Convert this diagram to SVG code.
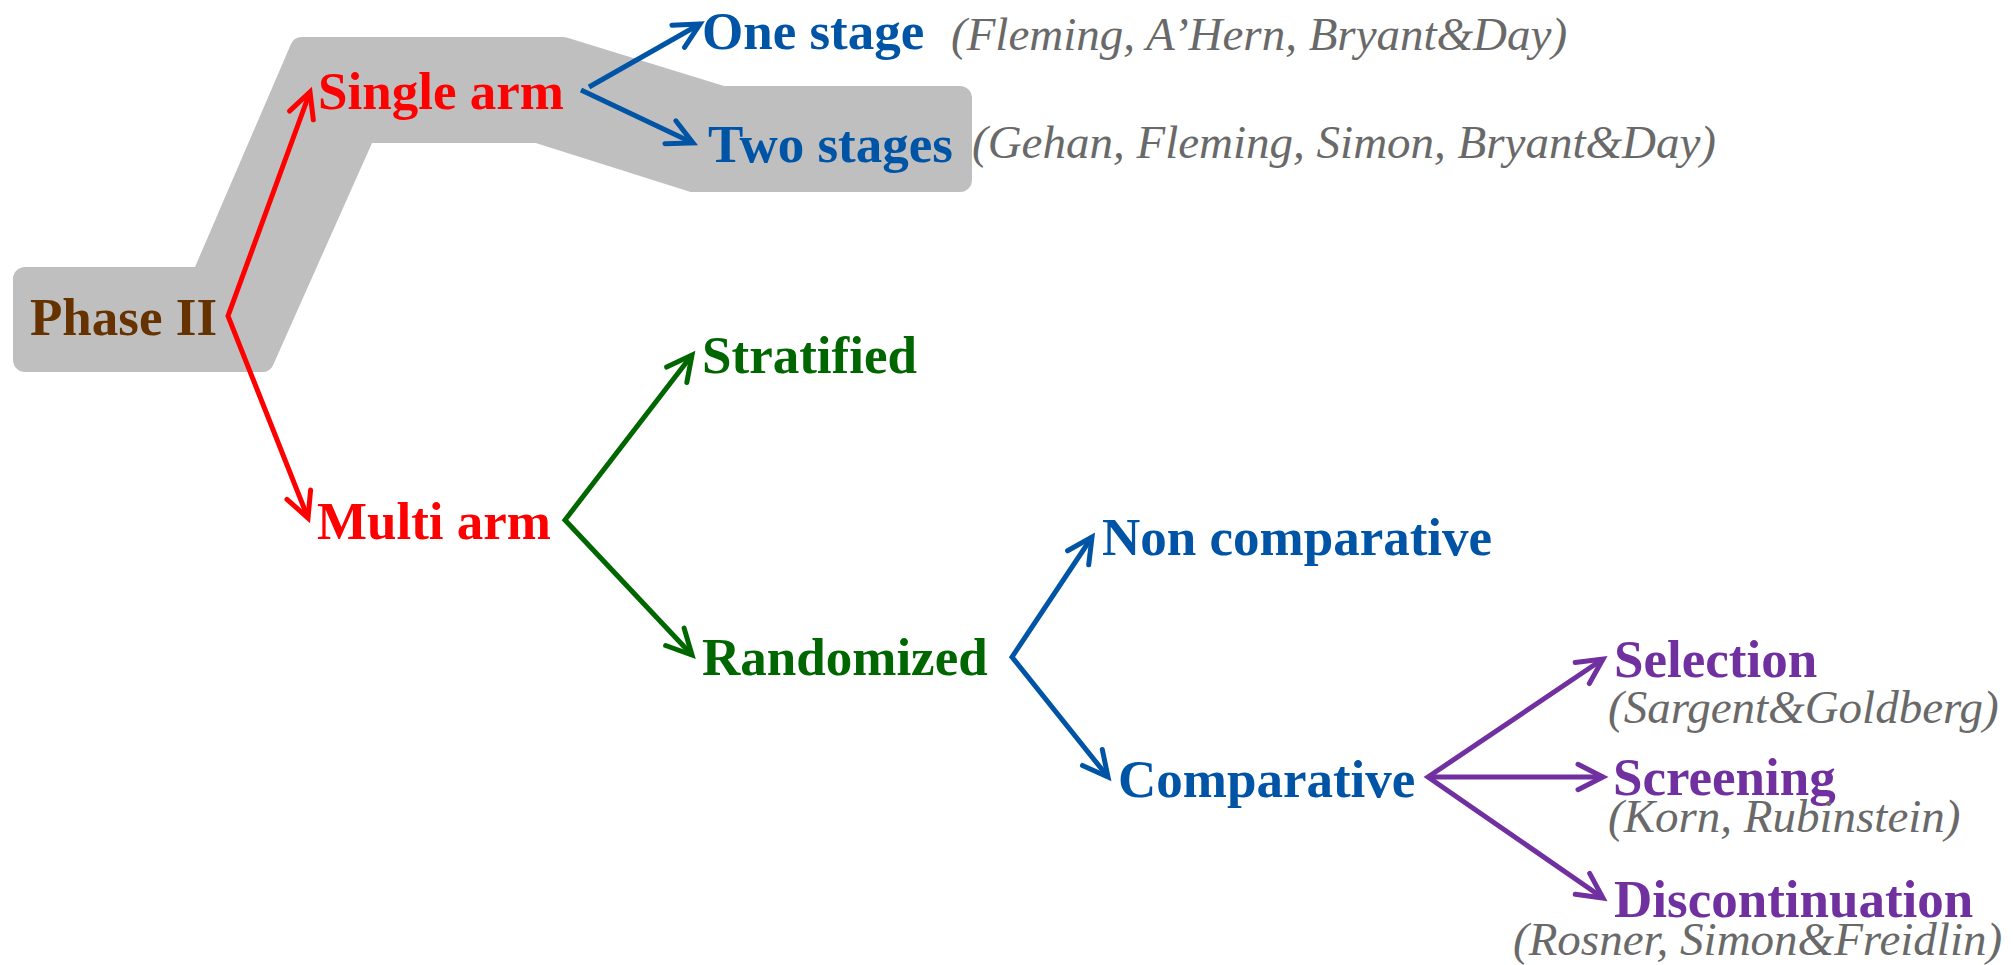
<svg xmlns="http://www.w3.org/2000/svg" width="2013" height="965" viewBox="0 0 2013 965">
  <style>
    .lbl { font-family: "Liberation Serif", "Times New Roman", serif; font-weight: bold; font-size: 53px; }
    .ref { font-family: "Liberation Serif", "Times New Roman", serif; font-style: italic; font-size: 47px; fill: #696969; }
    .brown { fill: #663300; }
    .red { fill: #ff0000; }
    .blue { fill: #0054a6; }
    .green { fill: #006600; }
    .purple { fill: #7030a0; }
    .conn { fill: none; stroke-width: 5; stroke-linejoin: miter; stroke-linecap: butt; }
  </style>
  <defs>
    <marker id="ah-red" markerUnits="userSpaceOnUse" orient="auto-start-reverse" viewBox="-40 -20 50 40" markerWidth="50" markerHeight="40" refX="0" refY="0" overflow="visible">
      <path d="M-25,-12.7 L0,0 L-25,12.7" fill="none" stroke="#ff0000" stroke-width="5" stroke-linecap="round"/>
    </marker>
    <marker id="ah-blue" markerUnits="userSpaceOnUse" orient="auto-start-reverse" viewBox="-40 -20 50 40" markerWidth="50" markerHeight="40" refX="0" refY="0" overflow="visible">
      <path d="M-25,-12.7 L0,0 L-25,12.7" fill="none" stroke="#0054a6" stroke-width="5" stroke-linecap="round"/>
    </marker>
    <marker id="ah-green" markerUnits="userSpaceOnUse" orient="auto-start-reverse" viewBox="-40 -20 50 40" markerWidth="50" markerHeight="40" refX="0" refY="0" overflow="visible">
      <path d="M-25,-12.7 L0,0 L-25,12.7" fill="none" stroke="#006600" stroke-width="5" stroke-linecap="round"/>
    </marker>
    <marker id="ah-purple" markerUnits="userSpaceOnUse" orient="auto-start-reverse" viewBox="-40 -20 50 40" markerWidth="50" markerHeight="40" refX="0" refY="0" overflow="visible">
      <path d="M-25,-12.7 L0,0 L-25,12.7" fill="none" stroke="#7030a0" stroke-width="5" stroke-linecap="round"/>
    </marker>
  </defs>

  <rect width="2013" height="965" fill="#ffffff"/>

  <!-- grey band tracing the single-arm path -->
  <g id="highlight">
    <polygon points="25,279 202.9,279 301.9,49 563.1,49 722.1,98 960,98 960,180 692.7,180 537.7,131 364.2,131 262.2,360 25,360"
             fill="#bfbfbf" stroke="#bfbfbf" stroke-width="24" stroke-linejoin="round"/>
  </g>

  <!-- connectors -->
  <g id="connectors">
    <polyline class="conn" stroke="#ff0000" stroke-width="4.5" points="310,92 228,316 308,518" marker-start="url(#ah-red)" marker-end="url(#ah-red)"/>
    <line class="conn" stroke="#0054a6" x1="589" y1="87" x2="700" y2="24" marker-end="url(#ah-blue)"/>
    <line class="conn" stroke="#0054a6" x1="581" y1="90" x2="693" y2="143" marker-end="url(#ah-blue)"/>
    <polyline class="conn" stroke="#006600" points="692,355 565,520 692,655" marker-start="url(#ah-green)" marker-end="url(#ah-green)"/>
    <polyline class="conn" stroke="#0054a6" points="1092,537 1012,657 1108,777" marker-start="url(#ah-blue)" marker-end="url(#ah-blue)"/>
    <polyline class="conn" stroke="#7030a0" points="1603,659 1428,777 1603,898" marker-start="url(#ah-purple)" marker-end="url(#ah-purple)"/>
    <line class="conn" stroke="#7030a0" x1="1428" y1="777" x2="1603" y2="777" marker-end="url(#ah-purple)"/>
  </g>

  <g id="phase-ii"><text class="lbl brown" x="30" y="335">Phase II</text></g>
  <g id="single-arm"><text class="lbl red" x="318" y="109">Single arm</text></g>
  <g id="multi-arm"><text class="lbl red" x="317" y="539">Multi arm</text></g>

  <g id="one-stage">
    <text class="lbl blue" x="702" y="49">One stage</text>
    <text class="ref" x="951" y="50">(Fleming, A’Hern, Bryant&amp;Day)</text>
  </g>
  <g id="two-stages">
    <text class="lbl blue" x="708" y="162">Two stages</text>
    <text class="ref" x="972" y="158">(Gehan, Fleming, Simon, Bryant&amp;Day)</text>
  </g>

  <g id="stratified"><text class="lbl green" x="702" y="373">Stratified</text></g>
  <g id="randomized"><text class="lbl green" x="702" y="675">Randomized</text></g>

  <g id="non-comparative"><text class="lbl blue" x="1102" y="555">Non comparative</text></g>
  <g id="comparative"><text class="lbl blue" x="1118" y="797">Comparative</text></g>

  <g id="selection">
    <text class="lbl purple" x="1614" y="677">Selection</text>
    <text class="ref" x="1608" y="723">(Sargent&amp;Goldberg)</text>
  </g>
  <g id="screening">
    <text class="lbl purple" x="1613" y="795">Screening</text>
    <text class="ref" x="1608" y="832">(Korn, Rubinstein)</text>
  </g>
  <g id="discontinuation">
    <text class="lbl purple" x="1614" y="917">Discontinuation</text>
    <text class="ref" x="1513" y="955">(Rosner, Simon&amp;Freidlin)</text>
  </g>
</svg>
